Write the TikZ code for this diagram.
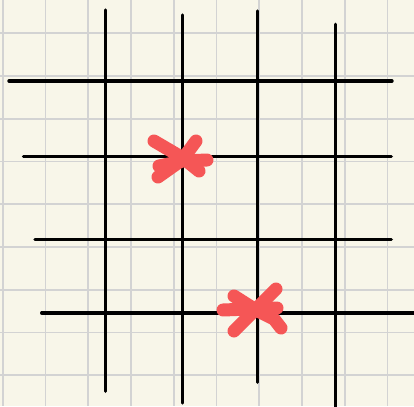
\documentclass[tikz,border=0pt]{standalone}
\begin{document}
\begin{tikzpicture}[x=1pt,y=-1pt,
  gridline/.style={draw=gridgrey,line width=1.7pt},
  road/.style={draw=black,line width=3.4pt,line cap=round},
  cross/.style={draw=markred,line width=13pt,line cap=round,line join=round}]
\definecolor{paper}{HTML}{F8F6E9}
\definecolor{gridgrey}{HTML}{D3D3D3}
\definecolor{markred}{HTML}{F55656}
\fill[paper] (0,0) rectangle (414,406);
\useasboundingbox (0,0) rectangle (414,406);
\begin{scope}
\clip (0,0) rectangle (414,406);
\foreach \i in {0,...,9} {
  \draw[gridline] ({2.7+42.75*\i},0) -- ({2.7+42.75*\i},406);
}
\foreach \i in {0,...,8} {
  \draw[gridline] (0,{33.3+42.75*\i}) -- (414,{33.3+42.75*\i});
}
% horizontal lines
\draw[road] (9,81) -- (392,81);
\draw[road] (23.5,156.7) -- (391.3,156.7);
\draw[road] (35,239.7) -- (391.3,239.7);
\draw[road] (41.7,313) -- (420,313);
% vertical lines
\draw[road] (105.3,10) -- (105.3,391.3);
\draw[road] (182.7,15) -- (182.7,403);
\draw[road] (257.3,11) -- (257.3,382.3);
\draw[road] (335.3,24.3) -- (335.3,412);
% marks
\draw[cross] (154,141) -- (183,158) -- (199,171);
\draw[cross] (196,141) -- (182,160) -- (158,177);
\draw[cross] (159,166) -- (183,161) -- (207,160);
\draw[cross] (234,296) -- (256,310) -- (274,319) -- (281,328);
\draw[cross] (276,289) -- (256,309) -- (234,331);
\draw[cross] (223,310) -- (277,308);
\end{scope}
\end{tikzpicture}
\end{document}
